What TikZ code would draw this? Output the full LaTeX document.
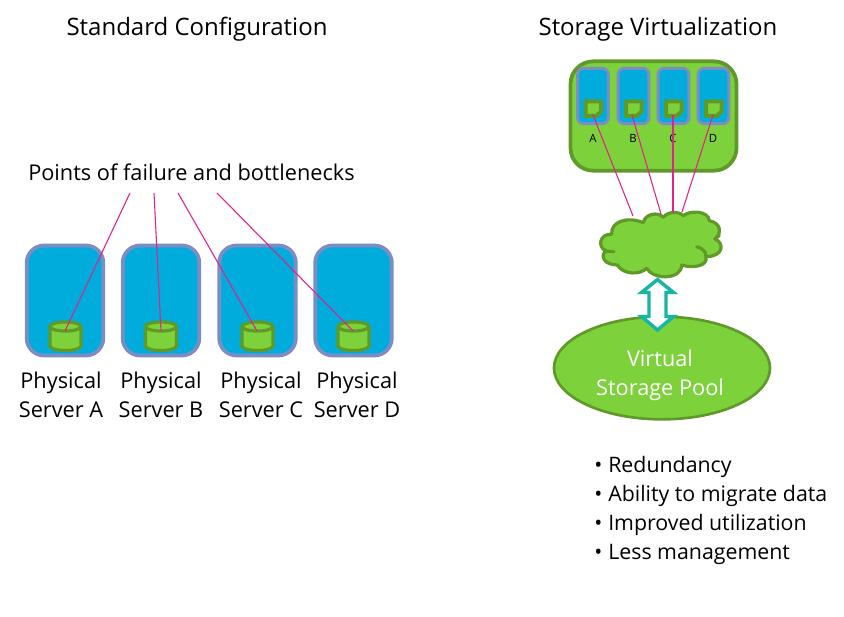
\documentclass[tikz,border=0pt]{standalone}
\usepackage{fontspec}
\setmainfont{Open Sans}
\usetikzlibrary{shapes.geometric}
\definecolor{srvblue}{HTML}{00ACDC}
\definecolor{srvedge}{HTML}{7C8DC6}
\definecolor{leaf}{HTML}{7DD13B}
\definecolor{leafdark}{HTML}{5F9A28}
\definecolor{teal}{HTML}{17B5A4}
\definecolor{pinkline}{HTML}{E3218A}
\tikzset{
  x=0.75pt,y=-0.75pt,
  server/.style={draw=srvedge,line width=2.8pt,fill=srvblue,rounded corners=13pt,minimum width=57.5pt,minimum height=82.5pt,inner sep=0pt},
  slot/.style={draw=srvedge,line width=2.2pt,fill=srvblue,rounded corners=4.5pt,minimum width=23pt,minimum height=41.5pt,inner sep=0pt},
  host/.style={draw=leafdark,line width=2.8pt,fill=leaf,rounded corners=17pt,minimum width=124.5pt,minimum height=82pt,inner sep=0pt},
  pool/.style={ellipse,draw=leafdark,line width=2pt,fill=leaf,minimum width=162pt,minimum height=77pt,inner sep=0pt},
  failline/.style={draw=pinkline,line width=0.8pt},
  big/.style={font=\fontsize{16.3}{16.3}\selectfont,inner sep=0pt,text height=11.5pt,text depth=3pt},
  bulletline/.style={font=\fontsize{16}{16}\selectfont,inner sep=0pt,text height=11.5pt,text depth=3pt},
  title/.style={font=\fontsize{18}{18}\selectfont,inner sep=0pt},
  tiny/.style={font=\fontsize{8.5}{8.5}\selectfont,inner sep=0pt},
  cyl/.style={draw=leafdark,line width=2.4pt,fill=leaf},
  cloudline/.style={draw=leafdark,line width=2.4pt,line join=round,line cap=round},
}
\newcommand{\drum}[2]{%
  \draw[cyl] (#1-15.5,#2-26.5) -- (#1-15.5,#2-7) arc[start angle=180,end angle=360,x radius=11.6pt,y radius=3.4pt] -- (#1+15.5,#2-26.5);
  \draw[cyl] (#1,#2-26.5) ellipse[x radius=11.6pt,y radius=3.4pt];
}
\newcommand{\note}[2]{%
  \filldraw[draw=leafdark,line width=3pt,fill=leaf,line join=round] (#1-7.5,#2-7) -- (#1+8,#2-7) -- (#1+8,#2+3) -- (#1+3,#2+7.5) -- (#1-7.5,#2+7.5) -- cycle;
}
\begin{document}
\begin{tikzpicture}
\useasboundingbox (0,0) rectangle (844,617);
\fill[white] (0,0) rectangle (844,617);
\node[title] (t1) at (197,29) {Standard Configuration};
\node[title] (t2) at (658,29) {Storage Virtualization};
\node[big,anchor=west] (pf) at (28,174.5) {Points of failure and bottlenecks};
% servers
\node[server] (sa) at (65,300.5) {};
\node[server] (sb) at (161,300.5) {};
\node[server] (sc) at (257.5,300.5) {};
\node[server] (sd) at (353.5,300.5) {};
\drum{65.5}{353}
\drum{161}{353}
\drum{257.5}{353}
\drum{353.5}{353}
\coordinate (ca) at (65,331); \coordinate (cb) at (161,331);
\coordinate (cc) at (257,331); \coordinate (cd) at (353,331);
\coordinate (fa) at (130,193); \coordinate (fb) at (154,193);
\coordinate (fc) at (178,193); \coordinate (fd) at (217,193);
\draw[failline] (fa) -- (ca);
\draw[failline] (fb) -- (cb);
\draw[failline] (fc) -- (cc);
\draw[failline] (fd) -- (cd);
\foreach \n/\x/\l in {la/61/A,lb/161/B,lc/261/C,ld/357/D}{
  \node[big,align=center] (\n1) at (\x,382.5) {Physical};
  \node[big,align=center] (\n2) at (\x,411.5) {Server \l};
}
% host
\node[host] (h) at (653.5,116) {};
\foreach \n/\x in {a/593,b/633.5,c/673.5,d/713.5}{
  \node[slot] (s\n) at (\x,96) {};
  \note{\x}{108.5}
}
\foreach \n/\x/\l in {a/593/A,b/633/B,c/673/C,d/713/D}{
  \node[tiny] (n\n) at (\x,138.5) {\l};
}
% pool
\node[pool] (pool) at (662,368) {};
\node[big,text=white] (v1) at (660,360.5) {Virtual};
\node[big,text=white] (v2) at (660,389.5) {Storage Pool};
% cloud
\begin{scope}[shift={(590,200)},x=0.25pt,y=-0.25pt]
\filldraw[cloudline,fill=leaf]
  (65,103) .. controls (62,65) and (110,48) .. (160,68)
  .. controls (165,40) and (205,35) .. (220,52)
  .. controls (232,35) and (265,32) .. (280,47)
  .. controls (300,30) and (355,32) .. (358,62)
  .. controls (395,70) and (395,100) .. (375,117)
  .. controls (405,130) and (400,170) .. (348,170)
  .. controls (355,200) and (305,205) .. (275,195)
  .. controls (275,240) and (190,240) .. (170,205)
  .. controls (150,225) and (100,225) .. (82,195)
  .. controls (40,195) and (30,165) .. (48,153)
  .. controls (20,140) and (30,100) .. cycle;
\draw[cloudline] (48,153) -- (72,155);
\draw[cloudline] (320,140) .. controls (338,145) and (348,155) .. (348,170);
\draw[cloudline] (375,117) -- (388,106);
\end{scope}
\coordinate (cla) at (633,216); \coordinate (clb) at (661,214);
\coordinate (clc) at (673,213); \coordinate (cld) at (682,212);
\draw[failline] (593,115) -- (cla);
\draw[failline] (632,115) -- (clb);
\draw[failline] (673,115) -- (clc);
\draw[failline] (713,115) -- (cld);
% double arrow
\draw[draw=teal,line width=2.6pt,fill=white,miter limit=10]
  (657.5,279.5) -- (673.5,292.5) -- (666,292.5) -- (666,316.5) -- (673.5,316.5) -- (657.5,330)
  -- (641.5,316.5) -- (649,316.5) -- (649,292.5) -- (641.5,292.5) -- cycle;
% bullets
\foreach \y/\t/\n in {466.5/Redundancy/ba,495.5/Ability to migrate data/bb,524.5/Improved utilization/bc,553.5/Less management/bd}{
  \node[bulletline,anchor=west] (\n) at (594,\y) {•\hspace{4.5pt}\t};
}
\end{tikzpicture}
\end{document}
